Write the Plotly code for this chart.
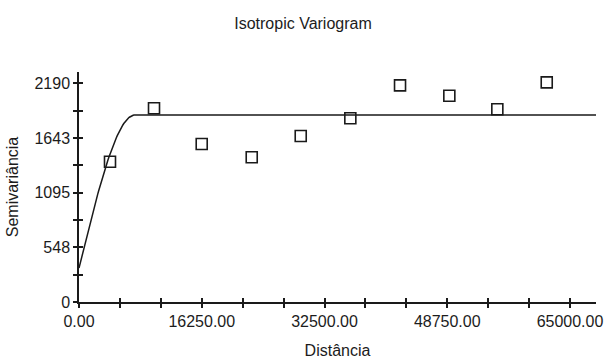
import plotly.graph_objects as go

# Experimental semivariogram (lag distance, semivariance)
lag_distance = [4104, 9930, 16245, 22865, 29353, 35920, 42500, 49026, 55381, 61921]
semivariance = [1406, 1941, 1583, 1450, 1663, 1841, 2171, 2067, 1931, 2201]

# Fitted spherical model parameters
nugget = 341
sill = 1874
model_range = 7414
x_max = 68443
y_max = 2305

# Axis ticks
x_tick_vals = [0, 5416.67, 10833.33, 16250, 21666.67, 27083.33, 32500,
               37916.67, 43333.33, 48750, 54166.67, 59583.33, 65000]
x_tick_text = ["0.00", "", "", "16250.00", "", "", "32500.00",
               "", "", "48750.00", "", "", "65000.00"]
y_tick_vals = [0, 273.75, 547.5, 821.25, 1095, 1368.75, 1642.5, 1916.25, 2190]
y_tick_text = ["0", "", "548", "", "1095", "", "1643", "", "2190"]


def spherical(h):
    if h >= model_range:
        return sill
    r = h / model_range
    return nugget + (sill - nugget) * (1.5 * r - 0.5 * r ** 3)


n_steps = 60
model_x = [model_range * i / n_steps for i in range(n_steps + 1)] + [x_max]
model_y = [spherical(h) for h in model_x]

ink = "#1a1a1a"
text_ink = "#1c1c1c"
font_family = "Liberation Sans, Arial, sans-serif"
fsize = 16

fig = go.Figure()
fig.add_trace(go.Scatter(
    x=model_x, y=model_y, mode="lines",
    line=dict(color=ink, width=1.5), showlegend=False, hoverinfo="skip",
))
fig.add_trace(go.Scatter(
    x=lag_distance, y=semivariance, mode="markers",
    marker=dict(symbol="square-open", size=11, color=ink, line=dict(width=1.6, color=ink)),
    showlegend=False,
))
# Invisible copy on the companion axes so they get drawn
fig.add_trace(go.Scatter(
    x=lag_distance, y=semivariance, mode="markers", xaxis="x2", yaxis="y2",
    marker=dict(opacity=0), showlegend=False, hoverinfo="skip",
))

axis_common = dict(
    showgrid=False, zeroline=False, ticklen=4, tickwidth=1.5, tickcolor=ink,
    automargin=False,
    tickfont=dict(family=font_family, size=fsize, color=text_ink),
)

fig.update_layout(
    width=606, height=361,
    margin=dict(l=79, r=10, t=72, b=59, autoexpand=False),
    paper_bgcolor="white", plot_bgcolor="white",
    font=dict(family=font_family, color=text_ink),
    title=dict(text="Isotropic Variogram", x=0.5, xref="container", xanchor="center",
               y=0.934, yref="container", yanchor="middle",
               font=dict(family=font_family, size=fsize, color=text_ink)),
    xaxis=dict(
        range=[0, x_max], tickmode="array", tickvals=x_tick_vals, ticktext=x_tick_text,
        ticks="outside", showline=True, linecolor=ink, linewidth=1.5,
        title=dict(text="Distância", font=dict(family=font_family, size=fsize, color=text_ink), standoff=16),
        **axis_common,
    ),
    yaxis=dict(
        range=[0, y_max], tickmode="array", tickvals=y_tick_vals, ticktext=y_tick_text,
        ticks="outside", showline=True, linecolor=ink, linewidth=1.5,
        title=dict(text="Semivariância", font=dict(family=font_family, size=fsize, color=text_ink), standoff=12),
        **axis_common,
    ),
    # Companion axes draw the inner half of each tick so the marks cross the axis lines
    xaxis2=dict(
        overlaying="x", anchor="y", side="bottom", range=[0, x_max],
        tickmode="array", tickvals=x_tick_vals, ticks="inside", showticklabels=False,
        showline=False, **axis_common,
    ),
    yaxis2=dict(
        overlaying="y", anchor="x", side="left", range=[0, y_max],
        tickmode="array", tickvals=y_tick_vals, ticks="inside", showticklabels=False,
        showline=False, **axis_common,
    ),
)

fig.write_html("out.html")
